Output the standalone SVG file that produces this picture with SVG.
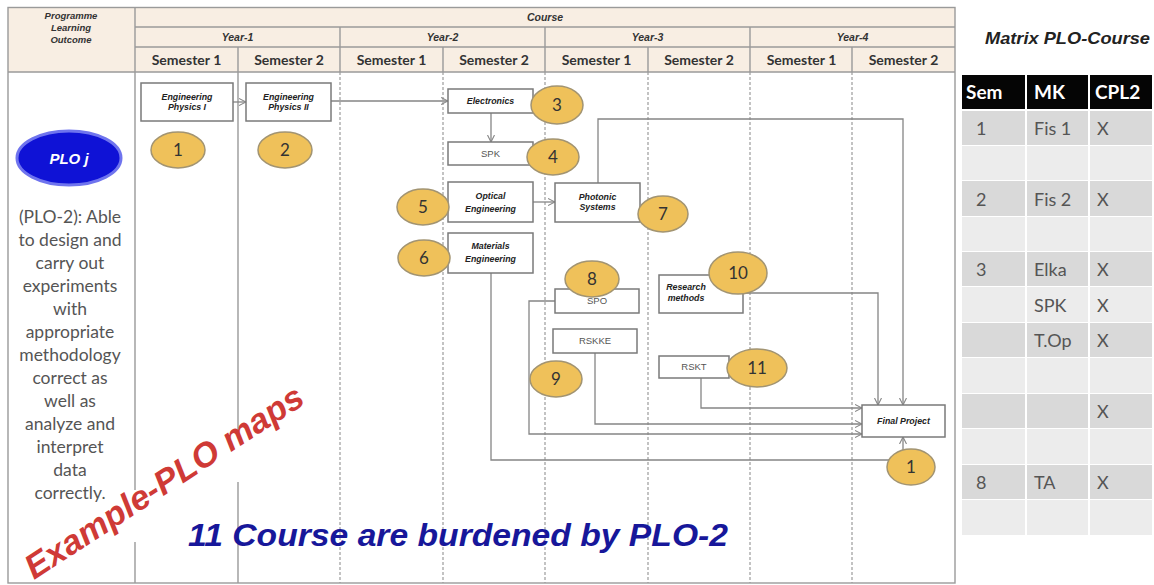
<svg xmlns="http://www.w3.org/2000/svg" width="1154" height="585" viewBox="0 0 1154 585">
  <defs>
    <style>
      .hdr { fill: #f8eee3; }
      .grid { stroke: #9a9a9a; stroke-width: 1.4; fill: none; }
      .dash { stroke: #9c9c9c; stroke-width: 1.2; stroke-dasharray: 3 2; fill: none; }
      .hdrtxt { font-family: "Liberation Sans", Arial, sans-serif; font-weight: bold; font-style: italic; fill: #333; text-anchor: middle; }
      .semtxt { font-family: Lato, "Liberation Sans", sans-serif; font-weight: bold; font-size: 14px; fill: #333; text-anchor: middle; }
      .box { fill: #ffffff; stroke: #7a7a7a; stroke-width: 1.5; }
      .script { font-family: "Liberation Sans", Arial, sans-serif; font-weight: bold; font-style: italic; font-size: 8.8px; fill: #222; text-anchor: middle; }
      .plain { font-family: "Liberation Sans", Arial, sans-serif; font-size: 9.5px; fill: #555; text-anchor: middle; }
      .badge { fill: #efc15a; stroke: #a29472; stroke-width: 1.5; }
      .badgetxt { font-family: Lato, "Liberation Sans", sans-serif; font-size: 17px; fill: #333; text-anchor: middle; }
      .conn { stroke: #858585; stroke-width: 1.3; fill: none; marker-end: url(#arr); }
      .plo { font-family: Lato, "Liberation Sans", sans-serif; font-size: 17.5px; fill: #555; text-anchor: middle; }
      .mx { font-family: Lato, "Liberation Sans", sans-serif; font-size: 18px; fill: #555; }
      .mxh { font-family: Lato, "Liberation Sans", sans-serif; font-size: 19px; font-weight: bold; fill: #ffffff; }
      .dark { fill: #d9d9d9; }
      .light { fill: #ececec; }
    </style>
    <marker id="arr" viewBox="0 0 8 8" refX="7" refY="4" markerWidth="8" markerHeight="8" markerUnits="userSpaceOnUse" orient="auto">
      <path d="M0,0.5 L7,4 L0,7.5" fill="none" stroke="#858585" stroke-width="1.1"/>
    </marker>
  </defs>

  <rect width="1154" height="585" fill="#ffffff"/>

  <!-- header band -->
  <rect class="hdr" x="8" y="7.5" width="947" height="64.5"/>

  <!-- body grid: dotted semester separators -->
  <g id="grid">
    <line class="dash" x1="340" y1="72" x2="340" y2="583"/>
    <line class="dash" x1="443" y1="72" x2="443" y2="583"/>
    <line class="dash" x1="545" y1="72" x2="545" y2="583"/>
    <line class="dash" x1="648" y1="72" x2="648" y2="583"/>
    <line class="dash" x1="750" y1="72" x2="750" y2="583"/>
    <line class="dash" x1="852" y1="72" x2="852" y2="583"/>
    <!-- solid separators, interrupted where the watermark sits -->
    <path class="grid" d="M135,7.5 V490 M135,542 V583"/>
    <path class="grid" d="M238,47 V432 M238,482 V583"/>
    <!-- header rules -->
    <path class="grid" d="M135,27 H955 M135,47 H955 M8,72 H955"/>
    <path class="grid" d="M340,27 V72 M545,27 V72 M750,27 V72 M443,47 V72 M648,47 V72 M852,47 V72"/>
    <rect class="grid" x="8" y="7.5" width="947" height="575.5"/>
  </g>

  <!-- header labels -->
  <g id="header">
    <text class="hdrtxt" font-size="9.5" x="71" y="19">Programme</text>
    <text class="hdrtxt" font-size="9.5" x="71" y="31">Learning</text>
    <text class="hdrtxt" font-size="9.5" x="71" y="43">Outcome</text>
    <text class="hdrtxt" font-size="10.5" x="545" y="21">Course</text>
    <text class="hdrtxt" font-size="10.5" x="237.5" y="41">Year-1</text>
    <text class="hdrtxt" font-size="10.5" x="442.5" y="41">Year-2</text>
    <text class="hdrtxt" font-size="10.5" x="647.5" y="41">Year-3</text>
    <text class="hdrtxt" font-size="10.5" x="852.5" y="41">Year-4</text>
    <text class="semtxt" x="186.5" y="65">Semester 1</text>
    <text class="semtxt" x="289" y="65">Semester 2</text>
    <text class="semtxt" x="391.5" y="65">Semester 1</text>
    <text class="semtxt" x="494" y="65">Semester 2</text>
    <text class="semtxt" x="596.5" y="65">Semester 1</text>
    <text class="semtxt" x="699" y="65">Semester 2</text>
    <text class="semtxt" x="801.5" y="65">Semester 1</text>
    <text class="semtxt" x="903.5" y="65">Semester 2</text>
  </g>

  <!-- learning outcome column -->
  <g id="plo">
    <ellipse cx="69" cy="158" rx="52" ry="27" fill="#0f12d6" stroke="#6f74ee" stroke-width="3"/>
    <text x="69" y="164" font-family="Liberation Sans, Arial, sans-serif" font-weight="bold" font-style="italic" font-size="15" fill="#ffffff" text-anchor="middle">PLO j</text>
    <text class="plo" x="70" y="223">(PLO-2): Able</text>
    <text class="plo" x="70" y="246">to design and</text>
    <text class="plo" x="70" y="269">carry out</text>
    <text class="plo" x="70" y="292">experiments</text>
    <text class="plo" x="70" y="315">with</text>
    <text class="plo" x="70" y="338">appropriate</text>
    <text class="plo" x="70" y="361">methodology</text>
    <text class="plo" x="70" y="384">correct as</text>
    <text class="plo" x="70" y="407">well as</text>
    <text class="plo" x="70" y="430">analyze and</text>
    <text class="plo" x="70" y="453">interpret</text>
    <text class="plo" x="70" y="476">data</text>
    <text class="plo" x="70" y="499">correctly.</text>
  </g>

  <!-- connectors -->
  <g id="connectors">
    <path class="conn" d="M233,102 H246"/>
    <path class="conn" d="M331,101 H448"/>
    <path class="conn" d="M491,113 V142"/>
    <path class="conn" d="M533,202 H555"/>
    <path class="conn" d="M598,183 V119 H903 V405"/>
    <path class="conn" d="M743,293 H878 V405"/>
    <path class="conn" d="M491,273 V460 H903 V437"/>
    <path class="conn" d="M555,301 H529 V434 H862"/>
    <path class="conn" d="M595,353 V424 H862"/>
    <path class="conn" d="M701,378 V408 H862"/>
  </g>

  <!-- course nodes -->
  <g id="n-ep1">
    <rect class="box" x="141" y="83" width="92" height="38"/>
    <text class="script" x="187" y="100">Engineering</text>
    <text class="script" x="187" y="110">Physics I</text>
    <ellipse class="badge" cx="178" cy="150" rx="27" ry="18"/>
    <text class="badgetxt" x="178" y="156">1</text>
  </g>
  <g id="n-ep2">
    <rect class="box" x="246" y="83" width="85" height="38"/>
    <text class="script" x="288.5" y="100">Engineering</text>
    <text class="script" x="288.5" y="110">Physics II</text>
    <ellipse class="badge" cx="285" cy="150" rx="27" ry="18"/>
    <text class="badgetxt" x="285" y="156">2</text>
  </g>
  <g id="n-electronics">
    <rect class="box" x="448" y="89" width="85" height="24"/>
    <text class="script" x="490.5" y="104">Electronics</text>
    <ellipse class="badge" cx="557" cy="105" rx="26" ry="19"/>
    <text class="badgetxt" x="557" y="111">3</text>
  </g>
  <g id="n-spk">
    <rect class="box" x="448" y="142" width="85" height="23"/>
    <text class="plain" x="490.5" y="157">SPK</text>
    <ellipse class="badge" cx="553" cy="157" rx="26" ry="18"/>
    <text class="badgetxt" x="553" y="163">4</text>
  </g>
  <g id="n-optical">
    <rect class="box" x="448" y="182" width="85" height="40"/>
    <text class="script" x="490.5" y="199">Optical</text>
    <text class="script" x="490.5" y="212">Engineering</text>
    <ellipse class="badge" cx="423" cy="207" rx="26" ry="18"/>
    <text class="badgetxt" x="423" y="213">5</text>
  </g>
  <g id="n-materials">
    <rect class="box" x="448" y="233" width="85" height="40"/>
    <text class="script" x="490.5" y="249">Materials</text>
    <text class="script" x="490.5" y="262">Engineering</text>
    <ellipse class="badge" cx="424" cy="258" rx="26" ry="18"/>
    <text class="badgetxt" x="424" y="264">6</text>
  </g>
  <g id="n-photonic">
    <rect class="box" x="555" y="183" width="85" height="39"/>
    <text class="script" x="597.5" y="200">Photonic</text>
    <text class="script" x="597.5" y="210">Systems</text>
    <ellipse class="badge" cx="663" cy="214" rx="25" ry="18"/>
    <text class="badgetxt" x="663" y="220">7</text>
  </g>
  <g id="n-spo">
    <rect class="box" x="555" y="289" width="84" height="24"/>
    <text class="plain" x="597" y="304">SPO</text>
    <ellipse class="badge" cx="592" cy="279" rx="27" ry="18"/>
    <text class="badgetxt" x="592" y="285">8</text>
  </g>
  <g id="n-rskke">
    <rect class="box" x="553" y="329" width="84" height="24"/>
    <text class="plain" x="595" y="344">RSKKE</text>
    <ellipse class="badge" cx="556" cy="379" rx="26" ry="18"/>
    <text class="badgetxt" x="556" y="385">9</text>
  </g>
  <g id="n-research">
    <rect class="box" x="659" y="275" width="84" height="38"/>
    <text class="script" x="686" y="290">Research</text>
    <text class="script" x="686" y="301">methods</text>
    <ellipse class="badge" cx="738" cy="273" rx="29" ry="21"/>
    <text class="badgetxt" x="738" y="279">10</text>
  </g>
  <g id="n-rskt">
    <rect class="box" x="659" y="356" width="70" height="22"/>
    <text class="plain" x="694" y="370">RSKT</text>
    <ellipse class="badge" cx="757" cy="368" rx="30" ry="19"/>
    <text class="badgetxt" x="757" y="374">11</text>
  </g>
  <g id="n-final">
    <rect class="box" x="862" y="405" width="83" height="32"/>
    <text class="script" x="903.5" y="424">Final Project</text>
    <ellipse class="badge" cx="911" cy="467" rx="24" ry="18"/>
    <text class="badgetxt" x="911" y="473">1</text>
  </g>

  <!-- captions -->
  <text x="188" y="546" font-family="Liberation Sans, Arial, sans-serif" font-weight="bold" font-style="italic" font-size="32" fill="#17179a" textLength="540" lengthAdjust="spacingAndGlyphs">11 Course are burdened by PLO-2</text>
  <text transform="translate(34,580) rotate(-33)" font-family="Liberation Sans, Arial, sans-serif" font-weight="bold" font-style="italic" font-size="34" fill="#cf3a36" textLength="325" lengthAdjust="spacingAndGlyphs">Example-PLO maps</text>

  <!-- course matrix -->
  <g id="matrix">
    <text x="985" y="44" font-family="Liberation Sans, Arial, sans-serif" font-weight="bold" font-style="italic" font-size="17" fill="#222" textLength="165" lengthAdjust="spacingAndGlyphs">Matrix PLO-Course</text>
    <rect x="962" y="75" width="190" height="34" fill="#050505"/>
    <line x1="1026" y1="75" x2="1026" y2="109" stroke="#ffffff" stroke-width="2"/>
    <line x1="1089" y1="75" x2="1089" y2="109" stroke="#ffffff" stroke-width="2"/>
    <text class="mxh" x="966" y="99">Sem</text>
    <text class="mxh" x="1034" y="99">MK</text>
    <text class="mxh" x="1095" y="99">CPL2</text>

    <rect class="dark" x="962" y="111" width="190" height="34"/>
    <rect class="light" x="962" y="146" width="190" height="34"/>
    <rect class="dark" x="962" y="181" width="190" height="35"/>
    <rect class="light" x="962" y="217" width="190" height="34"/>
    <rect class="dark" x="962" y="252" width="190" height="34"/>
    <rect class="light" x="962" y="287" width="190" height="35"/>
    <rect class="dark" x="962" y="323" width="190" height="34"/>
    <rect class="light" x="962" y="358" width="190" height="35"/>
    <rect class="dark" x="962" y="394" width="190" height="34"/>
    <rect class="light" x="962" y="429" width="190" height="35"/>
    <rect class="dark" x="962" y="465" width="190" height="34"/>
    <rect class="light" x="962" y="500" width="190" height="35"/>
    <line x1="1026" y1="110" x2="1026" y2="535" stroke="#ffffff" stroke-width="2"/>
    <line x1="1089" y1="110" x2="1089" y2="535" stroke="#ffffff" stroke-width="2"/>

    <text class="mx" x="976" y="135">1</text>
    <text class="mx" x="1034" y="135">Fis 1</text>
    <text class="mx" x="1097" y="135">X</text>
    <text class="mx" x="976" y="206">2</text>
    <text class="mx" x="1034" y="206">Fis 2</text>
    <text class="mx" x="1097" y="206">X</text>
    <text class="mx" x="976" y="276">3</text>
    <text class="mx" x="1034" y="276">Elka</text>
    <text class="mx" x="1097" y="276">X</text>
    <text class="mx" x="1034" y="312">SPK</text>
    <text class="mx" x="1097" y="312">X</text>
    <text class="mx" x="1034" y="347">T.Op</text>
    <text class="mx" x="1097" y="347">X</text>
    <text class="mx" x="1097" y="418">X</text>
    <text class="mx" x="976" y="489">8</text>
    <text class="mx" x="1034" y="489">TA</text>
    <text class="mx" x="1097" y="489">X</text>
  </g>
</svg>
